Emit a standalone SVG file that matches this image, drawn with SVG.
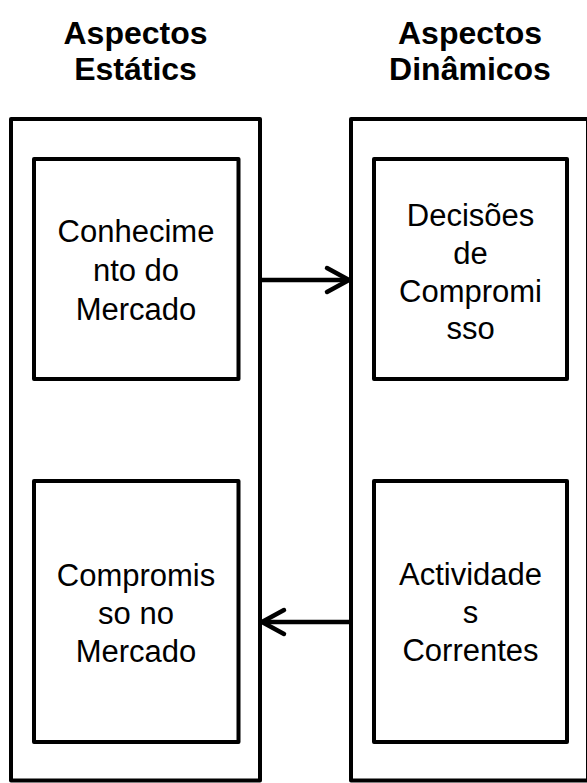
<svg xmlns="http://www.w3.org/2000/svg" width="587" height="783" viewBox="0 0 587 783">
<style>
.box{fill:#fff;stroke:#000;stroke-width:4;stroke-linejoin:round}
.t{font-family:"Liberation Sans",Arial,sans-serif;font-size:31px;text-anchor:middle;fill:#000}
.h{font-family:"Liberation Sans",Arial,sans-serif;font-size:32px;font-weight:bold;text-anchor:middle;fill:#000}
.c{fill:none;stroke:#000;stroke-width:4.5;stroke-linecap:round;stroke-linejoin:round}
</style>
<rect width="587" height="783" fill="#fff"/>
<g id="title-static">
<text class="h" x="135.5" y="44">Aspectos</text>
<text class="h" x="135.5" y="80">Estátics</text>
</g>
<g id="title-dynamic">
<text class="h" x="470" y="44">Aspectos</text>
<text class="h" x="470" y="80">Dinâmicos</text>
</g>
<g id="static">
<rect class="box" x="11" y="119" width="249" height="661.5"/>
</g>
<g id="dynamic">
<rect class="box" x="351" y="119" width="237" height="661.5"/>
</g>
<g id="conhecimento">
<rect class="box" x="34" y="159" width="204.5" height="220"/>
<text class="t" x="136" y="242">Conhecime</text>
<text class="t" x="136" y="281">nto do</text>
<text class="t" x="136" y="320">Mercado</text>
</g>
<g id="decisoes">
<rect class="box" x="374" y="159" width="193" height="220"/>
<text class="t" x="470.5" y="226">Decisões</text>
<text class="t" x="470.5" y="264">de</text>
<text class="t" x="470.5" y="302">Compromi</text>
<text class="t" x="470.5" y="339">sso</text>
</g>
<g id="compromisso">
<rect class="box" x="34" y="481" width="204.5" height="261"/>
<text class="t" x="136" y="586">Compromis</text>
<text class="t" x="136" y="624">so no</text>
<text class="t" x="136" y="662">Mercado</text>
</g>
<g id="actividades">
<rect class="box" x="374" y="481" width="193" height="261"/>
<text class="t" x="470.5" y="585">Actividade</text>
<text class="t" x="470.5" y="623">s</text>
<text class="t" x="470.5" y="661">Correntes</text>
</g>
<g id="connectors">
<line class="c" x1="262" y1="280" x2="348" y2="280"/>
<polyline class="c" points="327,268 349,280 327,292"/>
<line class="c" x1="349" y1="622" x2="263" y2="622"/>
<polyline class="c" points="284,610 262,622 284,634"/>
</g>
</svg>
